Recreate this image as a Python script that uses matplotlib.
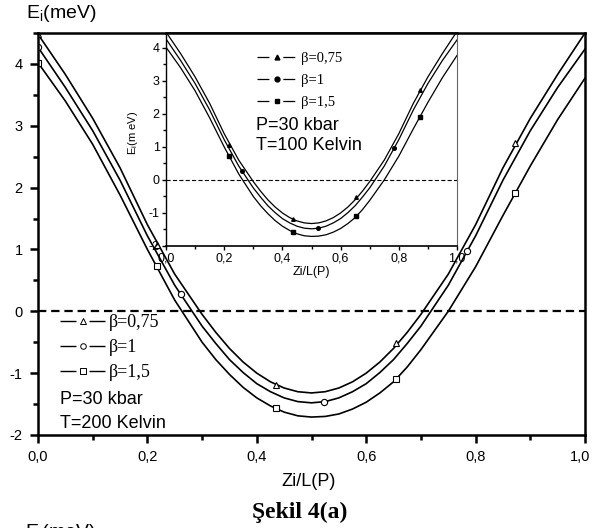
import matplotlib
matplotlib.use("Agg")
import matplotlib.pyplot as plt
from matplotlib.lines import Line2D
from matplotlib.ticker import MultipleLocator
from matplotlib.transforms import ScaledTranslation

plt.rcParams['font.family'] = ['Liberation Sans', 'DejaVu Sans']
plt.rcParams['axes.unicode_minus'] = False
plt.rcParams['lines.scale_dashes'] = False

# values (the inset curves read the same)
zi = [0.00, 0.05, 0.10, 0.15, 0.20, 0.25, 0.30, 0.325, 0.35, 0.375, 0.40, 0.425,
      0.45, 0.475, 0.50, 0.525, 0.55, 0.575, 0.60, 0.625, 0.65, 0.675, 0.70,
      0.75, 0.80, 0.85, 0.90, 0.95, 1.00]
e_b075 = [4.48, 3.83, 3.12, 2.32, 1.40, 0.60, -0.05, -0.34, -0.60, -0.82, -1.00, -1.14,
          -1.24, -1.30, -1.32, -1.30, -1.24, -1.14, -1.00, -0.82, -0.60, -0.34, -0.05,
          0.60, 1.40, 2.32, 3.12, 3.83, 4.50]
e_b1 = [4.27, 3.62, 2.92, 2.12, 1.22, 0.42, -0.24, -0.52, -0.78, -0.99, -1.17, -1.30,
        -1.40, -1.46, -1.48, -1.46, -1.40, -1.30, -1.17, -0.99, -0.78, -0.52, -0.24,
        0.42, 1.22, 2.12, 2.92, 3.62, 4.24]
e_b15 = [4.02, 3.40, 2.70, 1.88, 1.00, 0.18, -0.50, -0.78, -1.02, -1.23, -1.40, -1.53,
         -1.63, -1.69, -1.71, -1.70, -1.66, -1.58, -1.47, -1.32, -1.14, -0.90, -0.62,
         0.00, 0.72, 1.55, 2.35, 3.10, 3.77]

tri_x = [0.0, 0.218, 0.436, 0.654, 0.872]
tri_y = [4.48, 1.07, -1.19, -0.52, 2.72]
circ_x = [0.0, 0.261, 0.523, 0.784]
circ_y = [4.27, 0.28, -1.47, 0.97]
sq_x = [0.0, 0.218, 0.436, 0.654, 0.872]
sq_y = [4.02, 0.74, -1.57, -1.10, 1.91]

labels = ['β=0,75', 'β=1', 'β=1,5']
xticks = [0.0, 0.2, 0.4, 0.6, 0.8, 1.0]
xtick_labels = ['0,0', '0,2', '0,4', '0,6', '0,8', '1,0']
yticks = [-2, -1, 0, 1, 2, 3, 4]
ytick_labels = ['-2', '-1', '0', '1', '2', '3', '4']

series = [(e_b075, '^', tri_x, tri_y), (e_b1, 'o', circ_x, circ_y), (e_b15, 's', sq_x, sq_y)]

W, H = 592, 528
fig = plt.figure(figsize=(W / 100, H / 100), dpi=100)

# main axes (T=200 K)
ax = fig.add_axes([38 / W, 1 - 435 / H, (585 - 38) / W, (435 - 33) / H])
ax.set_xlim(0, 1)
ax.set_ylim(-2, 4.5)
for e, mk, mx, my in series:
    ax.plot(zi, e, color='k', lw=1.2)
    ax.plot(mx, my, ls='none', marker=mk, ms=4.5, mfc='white', mec='k', mew=0.8)
ax.axhline(0, color='k', lw=1.6, dashes=(6, 3.5))

for s in ax.spines.values():
    s.set_linewidth(1.8)
ax.set_xticks(xticks)
ax.set_xticklabels(xtick_labels)
ax.set_yticks(yticks)
ax.set_yticklabels(ytick_labels)
ax.xaxis.set_minor_locator(MultipleLocator(0.1))
ax.yaxis.set_minor_locator(MultipleLocator(0.5))
ax.tick_params(which='both', direction='out', width=1.8, labelsize=10.5, pad=5)
ax.tick_params(which='major', length=6)
ax.tick_params(which='minor', length=3.5)
last = ax.get_xticklabels()[-1]
last.set_transform(last.get_transform() + ScaledTranslation(-0.05, 0, fig.dpi_scale_trans))

hmain = [Line2D([], [], color='k', lw=1.0, dashes=(11.5, 9.4), marker=mk, ms=4,
                mfc='white', mec='k', mew=0.7) for _, mk, _, _ in series]
ax.legend(hmain, labels, loc='upper left', bbox_to_anchor=(60 / W, 1 - 314 / H),
          bbox_transform=fig.transFigure, frameon=False,
          prop={'family': 'Liberation Serif', 'size': 13}, handlelength=2.54,
          handletextpad=0.15, labelspacing=0.44, borderpad=0, borderaxespad=0)
fig.text(60 / W, 1 - 400 / H, 'P=30 kbar', va='center', fontsize=13)
fig.text(60 / W, 1 - 423 / H, 'T=200 Kelvin', va='center', fontsize=13)

# inset (T=100 K)
ax_in = fig.add_axes([166 / W, 1 - 246 / H, (457 - 166) / W, (246 - 33) / H])
ax_in.set_facecolor('white')
ax_in.set_xlim(0, 1)
ax_in.set_ylim(-2.0, 4.45)
for e, mk, mx, my in series:
    ax_in.plot(zi, e, color='k', lw=0.9)
    ax_in.plot(mx[1:], my[1:], ls='none', marker=mk, ms=2.6, color='k')
ax_in.axhline(0, color='k', lw=0.8, dashes=(3, 1.6))

ax_in.spines['left'].set_linewidth(1.0)
ax_in.spines['bottom'].set_linewidth(1.2)
ax_in.spines['right'].set_linewidth(0.8)
ax_in.spines['right'].set_color('0.4')
ax_in.spines['top'].set_linewidth(1.8)
ax_in.set_xticks(xticks)
ax_in.set_xticklabels(xtick_labels)
ax_in.set_yticks(yticks)
ax_in.set_yticklabels(ytick_labels)
ax_in.xaxis.set_minor_locator(MultipleLocator(0.1))
ax_in.yaxis.set_minor_locator(MultipleLocator(0.5))
ax_in.tick_params(which='both', direction='out', width=1.0, labelsize=9, pad=1.5)
ax_in.tick_params(which='major', length=3)
ax_in.tick_params(which='minor', length=2)
ax_in.set_xlabel('Zi/L(P)', fontsize=9, labelpad=1)
ax_in.set_ylabel(r'E$_\mathregular{i}$(m eV)', fontsize=8)
ax_in.yaxis.set_label_coords(-0.09, 0.53)

hin = [Line2D([], [], color='k', lw=0.9, dashes=(8.6, 10), marker=mk, ms=3.5)
       for _, mk, _, _ in series]
ax_in.legend(hin, labels, loc='upper left', bbox_to_anchor=(257 / W, 1 - 52 / H),
             bbox_transform=fig.transFigure, frameon=False,
             prop={'family': 'Liberation Serif', 'size': 10.5}, handlelength=2.74,
             handletextpad=0.3, labelspacing=0.6, borderpad=0, borderaxespad=0)
fig.text(256 / W, 1 - 125 / H, 'P=30 kbar', va='center', fontsize=13)
fig.text(256 / W, 1 - 145 / H, 'T=100 Kelvin', va='center', fontsize=13)

# labels and caption
fig.text(26 / W, 1 - 13 / H, r'E$_\mathregular{i}$(meV)', va='center', fontsize=14)
fig.text(309 / W, 1 - 481 / H, 'Zi/L(P)', ha='center', va='center', fontsize=13)
fig.text(300 / W, 1 - 512 / H, 'Şekil 4(a)', ha='center', va='center',
         family='Liberation Serif', weight='bold', fontsize=17)
fig.text(25 / W, 1 - 522 / H, r'E$_\mathregular{i}$(meV)', va='top', fontsize=14)

fig.savefig('out.png', dpi=100)
